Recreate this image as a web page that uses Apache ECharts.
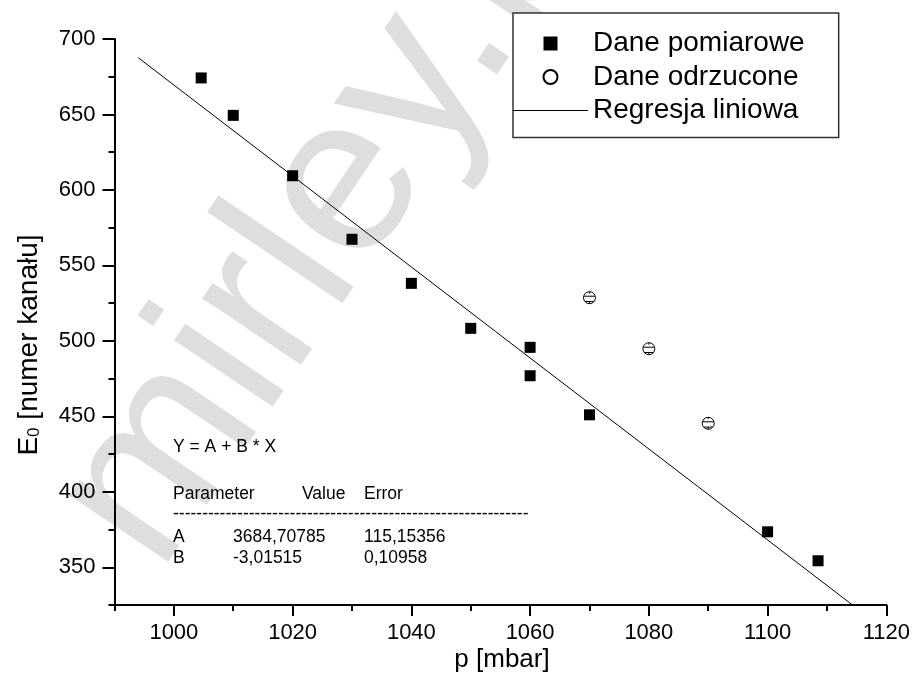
<!DOCTYPE html>
<html><head><meta charset="utf-8">
<script src="https://cdn.jsdelivr.net/npm/echarts@6/dist/echarts.min.js"></script>
<style>html,body{margin:0;padding:0;background:#fff}#c{width:913px;height:694px}</style>
</head><body><div id="c"></div>
<script>
const measuredP = [1004.6, 1010, 1020, 1030, 1040, 1050, 1060, 1060, 1070, 1100, 1108.5];
const measuredE = [674.2, 649.4, 609.4, 567.3, 538.1, 508.3, 495.7, 476.9, 451.0, 373.5, 354.3];
const rejectedP = [1070, 1080, 1090];
const rejectedE = [528.6, 494.8, 445.4];
const fitP = [994, 1114.3];
const fitE = [687.6, 325];
const xMajorTicks = [1000, 1020, 1040, 1060, 1080, 1100, 1120];
const xMinorTicks = [990, 1010, 1030, 1050, 1070, 1090, 1110];
const yMajorTicks = [350, 400, 450, 500, 550, 600, 650, 700];
const yMinorTicks = [325, 375, 425, 475, 525, 575, 625, 675];
const fitHeader = ['Parameter', 'Value', 'Error'];
const fitRows = [['A', '3684,70785', '115,15356'], ['B', '-3,01515', '0,10958']];

const FONT = '"Liberation Sans", Arial, sans-serif';
const zip = (a, b) => a.map((v, i) => [v, b[i]]);

const chart = echarts.init(document.getElementById('c'), null, {renderer: 'canvas'});

const circleErr = 'path://M0,-6A6,6,0,1,1,0,6A6,6,0,1,1,0,-6ZM-5.7,-1.5L5.7,-1.5M-4.5,3.8L4.5,3.8M0,-6L0,-4M0,6L0,3.8';

const AF = '17.5px ' + FONT;
const annot = [];
annot.push({type: 'text', left: 173, top: 438, style: {text: 'Y = A + B * X', font: AF, fill: '#000'}});
annot.push({type: 'text', left: 173, top: 485, style: {text: fitHeader[0], font: AF, fill: '#000'}});
annot.push({type: 'text', left: 302, top: 485, style: {text: fitHeader[1], font: AF, fill: '#000'}});
annot.push({type: 'text', left: 364, top: 485, style: {text: fitHeader[2], font: AF, fill: '#000'}});
annot.push({type: 'text', left: 173, top: 505, style: {text: '-'.repeat(61), font: AF, fill: '#000'}});
fitRows.forEach((r, i) => {
  const top = 528 + i * 21;
  annot.push({type: 'text', left: 173, top: top, style: {text: r[0], font: AF, fill: '#000'}});
  annot.push({type: 'text', left: 233, top: top, style: {text: r[1], font: AF, fill: '#000'}});
  annot.push({type: 'text', left: 364, top: top, style: {text: r[2], font: AF, fill: '#000'}});
});

const option = {
  animation: false,
  backgroundColor: '#fff',
  textStyle: {fontFamily: FONT},
  grid: {left: 114.5, right: 23.5, top: 39, bottom: 89},
  graphic: [
    {type: 'text', z: -10, x: 108, y: 540, rotation: 56 * Math.PI / 180,
     style: {text: 'mirley.pl', font: '225px ' + FONT, fill: '#dedede', verticalAlign: 'middle', align: 'left'}},
    {type: 'text', z: 10, x: 27, y: 345, rotation: Math.PI / 2,
     style: {text: '{a|E}{b|0}{a| [numer kanału]}', align: 'center', verticalAlign: 'middle',
       rich: {a: {font: '28px ' + FONT, fill: '#000', lineHeight: 32, verticalAlign: 'bottom'},
              b: {font: '17px ' + FONT, fill: '#000', lineHeight: 10, verticalAlign: 'bottom'}}}},
    {type: 'text', z: 10, x: 502, y: 660, style: {text: 'p [mbar]', font: '26px ' + FONT, fill: '#000', align: 'center', verticalAlign: 'middle'}},
    ...annot.map(a => Object.assign({z: 10}, a))
  ],
  legend: {
    orient: 'vertical', left: 513, top: 13,
    padding: [16.5, 34, 13, 0],
    itemWidth: 75, itemHeight: 14, itemGap: 5.5, itemTextGap: 13,
    symbolKeepAspect: true,
    backgroundColor: '#fff', borderColor: '#333', borderWidth: 1.5,
    textStyle: {fontSize: 28, fontFamily: FONT, color: '#000', lineHeight: 26},
    data: [
      {name: 'Dane pomiarowe', icon: 'path://M0,0L1,0L1,1L0,1Z'},
      {name: 'Dane odrzucone', icon: 'circle'},
      {name: 'Regresja liniowa', icon: 'path://M0,0L75,0L75,1L0,1Z'}
    ]
  },
  xAxis: [
    {type: 'value', min: 990, max: 1120, interval: 10, position: 'bottom',
     splitLine: {show: false},
     axisLine: {lineStyle: {color: '#000', width: 2}},
     axisTick: {customValues: xMajorTicks, length: 11, lineStyle: {color: '#000', width: 2}},
     axisLabel: {customValues: xMajorTicks, fontSize: 22, color: '#000', margin: 17, fontFamily: FONT,
                 formatter: v => String(v)}},
    {type: 'value', min: 990, max: 1120, interval: 10, position: 'bottom',
     splitLine: {show: false},
     axisLine: {show: false},
     axisTick: {customValues: xMinorTicks, length: 6, lineStyle: {color: '#000', width: 2}},
     axisLabel: {show: false}}
  ],
  yAxis: [
    {type: 'value', min: 325, max: 700, interval: 25, position: 'left',
     splitLine: {show: false},
     axisLine: {show: true, lineStyle: {color: '#000', width: 2}},
     axisTick: {show: true, customValues: yMajorTicks, length: 12, lineStyle: {color: '#000', width: 2}},
     axisLabel: {customValues: yMajorTicks, fontSize: 22, color: '#000', margin: 19, fontFamily: FONT,
                 formatter: v => String(v)}},
    {type: 'value', min: 325, max: 700, interval: 25, position: 'left',
     splitLine: {show: false},
     axisLine: {show: false},
     axisTick: {show: true, customValues: yMinorTicks, length: 6, lineStyle: {color: '#000', width: 2}},
     axisLabel: {show: false}}
  ],
  series: [
    {name: 'Regresja liniowa', type: 'line', data: zip(fitP, fitE), symbol: 'none',
     lineStyle: {color: '#000', width: 1}, itemStyle: {color: '#000'}, z: 2},
    {name: 'Dane pomiarowe', type: 'scatter', data: zip(measuredP, measuredE), symbol: 'rect', symbolSize: 11,
     itemStyle: {color: '#000', opacity: 1}, z: 3},
    {name: 'Dane odrzucone', type: 'scatter', data: zip(rejectedP, rejectedE), symbol: circleErr, symbolSize: 12,
     itemStyle: {color: '#fff', borderColor: '#000', borderWidth: 1, opacity: 1}, z: 3}
  ]
};
chart.setOption(option);
</script>
</body></html>
